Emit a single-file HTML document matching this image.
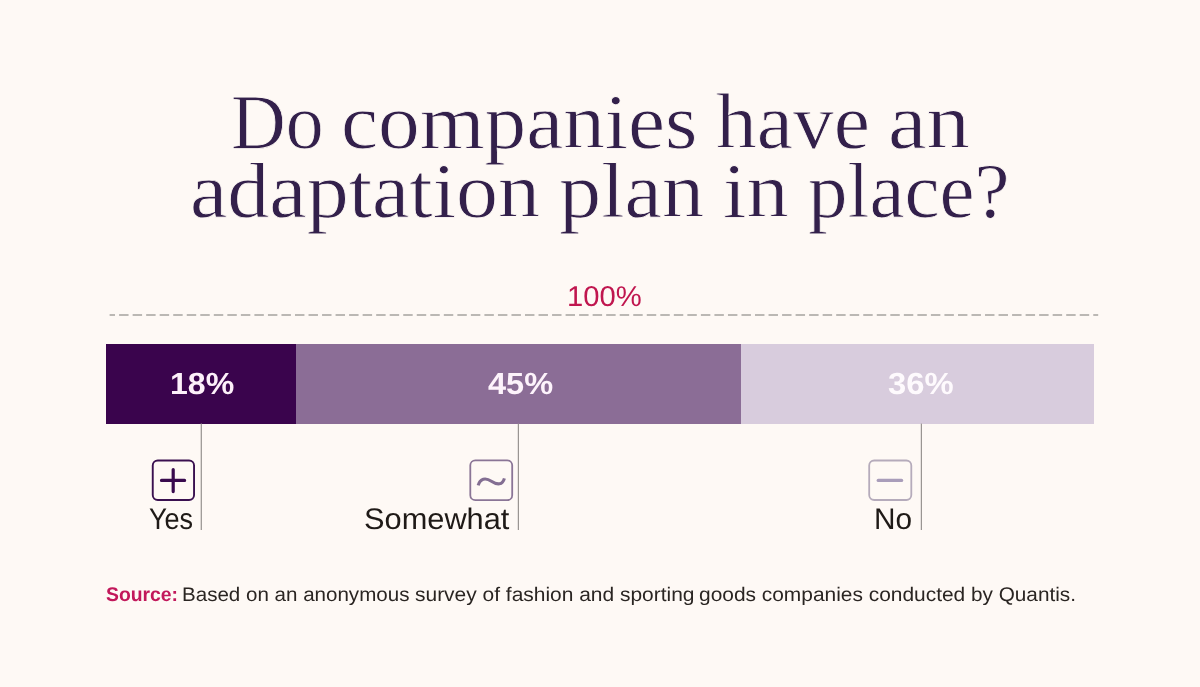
<!DOCTYPE html>
<html lang="en">
<head>
<meta charset="utf-8">
<title>Do companies have an adaptation plan in place?</title>
<style>
html,body{margin:0;padding:0;}
body{width:1200px;height:687px;background:#fef9f5;overflow:hidden;position:relative;font-family:"Liberation Sans",sans-serif;}
.abs{position:absolute;white-space:nowrap;line-height:1;transform-origin:0 0;text-rendering:geometricPrecision;}
.title{font-family:"Liberation Serif",serif;color:#33204b;-webkit-text-stroke:0.8px #fef9f5;text-rendering:auto;}
.pct{color:#fdf3fb;font-weight:bold;}
#p1{color:#fdf0fa;}
#p3{color:#fefafd;}
.lab{color:#1f1a17;}
.hund{color:#c0164f;}
.src{color:#2a2522;}
.src b{color:#c2185b;}
.bar{position:absolute;top:344.4px;height:79.2px;}
svg{position:absolute;left:0;top:0;}
</style>
</head>
<body>
<div class="bar" style="left:106px;width:190px;background:#3a044d;"></div>
<div class="bar" style="left:296px;width:445px;background:#8b6d96;"></div>
<div class="bar" style="left:741px;width:353.2px;background:#d8ccdd;"></div>

<svg width="1200" height="687" viewBox="0 0 1200 687">
  <line x1="109.6" y1="315" x2="1098.2" y2="315" stroke="#a5a29f" stroke-width="1.45" stroke-dasharray="9.45 4.08" stroke-dashoffset="4.03"/>
  <g stroke="#9a9592" stroke-width="1.25">
    <line x1="201.3" y1="423.6" x2="201.3" y2="530"/>
    <line x1="518.4" y1="423.6" x2="518.4" y2="530"/>
    <line x1="921.4" y1="423.6" x2="921.4" y2="530"/>
  </g>
  <!-- plus icon -->
  <rect x="152.75" y="460.55" width="41.3" height="39.4" rx="5" ry="5" fill="none" stroke="#3a1050" stroke-width="1.9"/>
  <path d="M161.500 480.4H184.600M173.200 469.500V491.600" stroke="#390a4e" stroke-width="3.2" stroke-linecap="round" fill="none"/>
  <!-- tilde icon -->
  <rect x="470.3" y="460.3" width="41.9" height="39.9" rx="5" ry="5" fill="none" stroke="#8a7596" stroke-width="1.8"/>
  <path d="M478.200 485.300C480 478.5 485.500 477.200 491.400 481.200C497.500 485.300 502.500 485 504.400 478.300" stroke="#836e92" stroke-width="3.1" stroke-linecap="butt" fill="none"/>
  <!-- minus icon -->
  <rect x="869.2" y="460.5" width="42.1" height="39.5" rx="5" ry="5" fill="none" stroke="#b5abbb" stroke-width="1.8"/>
  <path d="M878.200 480.400H901.600" stroke="#a99dba" stroke-width="3.2" stroke-linecap="round" fill="none"/>
</svg>
<div class="abs title" id="w1" style="left:230.83px;top:83.00px;font-size:78.10px;transform:scaleX(0.9704);">Do</div>
<div class="abs title" id="w2" style="left:340.77px;top:83.00px;font-size:78.10px;transform:scaleX(1.0671);">companies</div>
<div class="abs title" id="w3" style="left:716.20px;top:83.00px;font-size:78.10px;transform:scaleX(1.0444);">have</div>
<div class="abs title" id="w4" style="left:887.91px;top:83.00px;font-size:78.10px;transform:scaleX(1.1109);">an</div>
<div class="abs title" id="w5" style="left:189.51px;top:152.00px;font-size:78.10px;transform:scaleX(1.0763);">adaptation</div>
<div class="abs title" id="w6" style="left:559.12px;top:152.00px;font-size:78.10px;transform:scaleX(1.0792);">plan</div>
<div class="abs title" id="w7" style="left:723.34px;top:152.00px;font-size:78.10px;transform:scaleX(1.0795);">in</div>
<div class="abs title" id="w8" style="left:807.98px;top:152.00px;font-size:78.10px;transform:scaleX(1.0113);">place?</div>
<div class="abs hund" id="hundred" style="left:566.95px;top:283.00px;font-size:28.60px;transform:scaleX(1.0215);">100%</div>
<div class="abs pct" id="p1" style="left:170.15px;top:369.00px;font-size:30.60px;transform:scaleX(1.0487);">18%</div>
<div class="abs pct" id="p2" style="left:488.22px;top:369.00px;font-size:30.60px;transform:scaleX(1.0633);">45%</div>
<div class="abs pct" id="p3" style="left:887.95px;top:369.00px;font-size:30.60px;transform:scaleX(1.0711);">36%</div>
<div class="abs lab" id="l1" style="left:149.32px;top:505.00px;font-size:29.80px;transform:scaleX(0.9048);">Yes</div>
<div class="abs lab" id="l2" style="left:364.20px;top:505.00px;font-size:29.80px;transform:scaleX(1.0327);">Somewhat</div>
<div class="abs lab" id="l3" style="left:873.50px;top:505.00px;font-size:29.80px;transform:scaleX(0.9986);">No</div>
<div class="abs src" id="s1" style="left:106.26px;top:586.00px;font-size:19.70px;transform:scaleX(0.9830);"><b>Source:</b></div>
<div class="abs src" id="s2" style="left:182.18px;top:586.00px;font-size:19.70px;transform:scaleX(1.0441);">Based on an anonymous</div>
<div class="abs src" id="s3" style="left:415.22px;top:586.00px;font-size:19.70px;transform:scaleX(1.0642);">survey of fashion and sporting</div>
<div class="abs src" id="s4" style="left:699.20px;top:586.00px;font-size:19.70px;transform:scaleX(1.0622);">goods companies conducted</div>
<div class="abs src" id="s5" style="left:970.93px;top:586.00px;font-size:19.70px;transform:scaleX(1.0539);">by Quantis.</div>
</body>
</html>
